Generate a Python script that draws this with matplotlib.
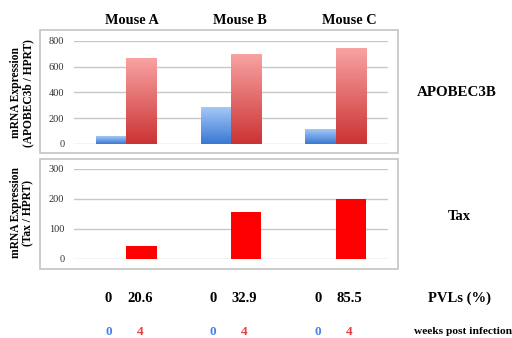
import numpy as np
import matplotlib
matplotlib.use("Agg")
import matplotlib.pyplot as plt
from matplotlib.patches import Rectangle
from matplotlib.colors import LinearSegmentedColormap

mice = ["Mouse A", "Mouse B", "Mouse C"]
apobec_wk0 = [55, 280, 115]
apobec_wk4 = [665, 695, 740]
tax_wk0 = [0, 0, 0]
tax_wk4 = [43, 157, 200]
pvl_wk0 = ["0", "0", "0"]
pvl_wk4 = ["20.6", "32.9", "85.5"]
weeks = ["0", "4"]

plt.rcParams['font.family'] = ['Liberation Serif', 'DejaVu Serif']

W, H = 512, 338
fig = plt.figure(figsize=(W / 100, H / 100), dpi=100)

blue_cm = LinearSegmentedColormap.from_list("b", ["#3a78d4", "#a3c8f7"])
red_cm = LinearSegmentedColormap.from_list("r", ["#cc3333", "#f8a2a2"])
grad = np.linspace(0, 1, 100).reshape(-1, 1)


def px(x0, y0, x1, y1):
    # pixel box (top-left origin) -> figure rect
    return [x0 / W, 1 - y1 / H, (x1 - x0) / W, (y1 - y0) / H]


# outer frames
for box in [px(40, 30, 398, 153), px(40, 159, 398, 269)]:
    fig.patches.append(Rectangle((box[0], box[1]), box[2], box[3], transform=fig.transFigure,
                                 fill=False, edgecolor="#c4c4c4", linewidth=1.2))

bw = 0.29
x = np.arange(len(mice))


def setup(ax, ymax, step):
    ax.set_xlim(-0.5, 2.5)
    ax.set_ylim(0, ymax)
    ax.set_yticks(np.arange(0, ymax + 1, step))
    ax.set_xticks([])
    for s in ax.spines.values():
        s.set_visible(False)
    ax.yaxis.grid(True, color="#c8c8c8", linewidth=1)
    ax.set_axisbelow(True)
    ax.tick_params(axis="y", length=0, labelsize=7.5, pad=7, labelcolor="#333333")


ax1 = fig.add_axes(px(74, 41, 388, 144))
setup(ax1, 800, 200)
for i in x:
    ax1.imshow(grad, extent=(i - bw, i, 0, apobec_wk0[i]), cmap=blue_cm, origin="lower",
               aspect="auto", zorder=2)
    ax1.imshow(grad, extent=(i, i + bw, 0, apobec_wk4[i]), cmap=red_cm, origin="lower",
               aspect="auto", zorder=2)
ax1.set_xlim(-0.5, 2.5)
ax1.set_ylim(0, 800)

ax2 = fig.add_axes(px(74, 169, 388, 259))
setup(ax2, 300, 100)
ax2.bar(x - bw / 2, tax_wk0, bw, color="#3a78d4", zorder=2)
ax2.bar(x + bw / 2, tax_wk4, bw, color="#ff0000", zorder=2)

# titles and labels
title_x = [132, 240, 349]
for i, m in enumerate(mice):
    fig.text(title_x[i] / W, 1 - 20 / H, m, ha="center", va="center", fontsize=10.3, fontweight="bold")

fig.text(22 / W, 1 - 93 / H, "mRNA Expression\n(APOBEC3b / HPRT)", rotation=90, ha="center",
         va="center", fontsize=8.3, fontweight="bold", linespacing=1.05)
fig.text(22 / W, 1 - 213 / H, "mRNA Expression\n(Tax / HPRT)", rotation=90, ha="center",
         va="center", fontsize=8.3, fontweight="bold", linespacing=1.05)

fig.text(457 / W, 1 - 93 / H, "APOBEC3B", ha="center", va="center", fontsize=10.8, fontweight="bold")
fig.text(459 / W, 1 - 217 / H, "Tax", ha="center", va="center", fontsize=10.5, fontweight="bold")
fig.text(460 / W, 1 - 298 / H, "PVLs (%)", ha="center", va="center", fontsize=10.5, fontweight="bold")
fig.text(414 / W, 1 - 332 / H, "weeks post infection", ha="left", va="center", fontsize=8.2,
         fontweight="bold")

# PVL values and weeks row, placed under bars via data coords of ax2
for i in x:
    for xo, pv, wk, col in [(-0.17, pvl_wk0[i], weeks[0], "#4a7fe8"),
                            (0.13, pvl_wk4[i], weeks[1], "#e83a3a")]:
        xf = ax2.transData.transform((i + xo, 0))[0]
        fig.text(xf / fig.dpi / fig.get_figwidth(), 1 - 298 / H, pv, ha="center", va="center",
                 fontsize=10.5, fontweight="bold")
        fig.text(xf / fig.dpi / fig.get_figwidth(), 1 - 332 / H, wk, ha="center", va="center",
                 fontsize=9.5, fontweight="bold", color=col)

fig.savefig("out.png", dpi=100)
